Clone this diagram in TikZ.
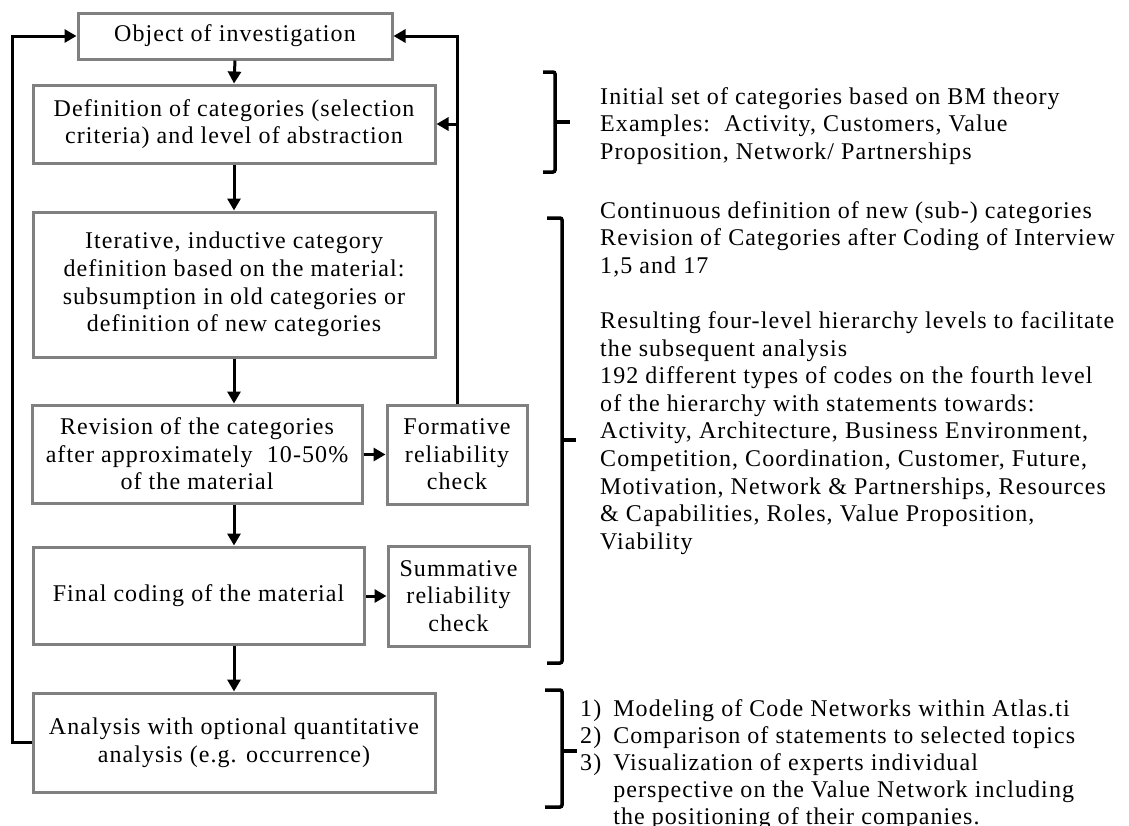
\documentclass[tikz,border=0pt]{standalone}
\usepackage{fontspec}
\setmainfont{Liberation Serif}[LetterSpace=4.5]
\usetikzlibrary{arrows.meta}
\definecolor{boxgray}{HTML}{808080}
\begin{document}
\begin{tikzpicture}[x=1pt,y=-1pt,
  every node/.style={font=\fontsize{24}{27.6}\selectfont},
  stage/.style={draw=boxgray,line width=3pt,fill=white,align=center,inner sep=0pt},
  flow/.style={line width=3pt,-{Triangle[length=12pt,width=13pt]}},
  brace/.style={line width=3.5pt,rounded corners=2pt},
  note/.style={align=left,anchor=north west,inner sep=0pt}]
\useasboundingbox (0,0) rectangle (1129,825);

% process stages
\node[stage,minimum width=314pt,minimum height=46pt] (obj) at (235,36) {Object of investigation};
\node[stage,minimum width=402pt,minimum height=78pt] (def) at (234,124)
  {Definition of categories (selection\\criteria) and level of abstraction};
\node[stage,minimum width=402pt,minimum height=145pt] (iter) at (234,284.5)
  {Iterative, inductive category\\definition based on the material:\\subsumption in old categories or\\definition of new categories};
\node[stage,minimum width=330pt,minimum height=98pt] (rev) at (197,454)
  {Revision of the categories\\after approximately\ \ 10-50\%\\of the material};
\node[stage,minimum width=140pt,minimum height=99pt] (form) at (457,454.5)
  {Formative\\reliability\\check};
\node[stage,minimum width=331pt,minimum height=97pt] (fin) at (198.5,595.5)
  {Final coding of the material};
\node[stage,minimum width=141pt,minimum height=100pt] (sum) at (458.5,596)
  {Summative\\reliability\\check};
\node[stage,minimum width=402pt,minimum height=99pt] (ana) at (234,742.5)
  {Analysis with optional quantitative\\analysis (e.g. occurrence)};

% main flow
\draw[flow] (obj.south) -- (def.north);
\draw[flow] (def.south) -- (iter.north);
\draw[flow] (iter.south) -- (iter.south |- rev.north);
\draw[flow] (rev.south -| iter.south) -- (fin.north -| iter.south);
\draw[flow] (fin.south -| ana.north) -- (ana.north);
\draw[flow] (rev.east |- form.west) -- (form.west);
\draw[flow] (fin.east |- sum.west) -- (sum.west);

% feedback loops
\coordinate (back) at (12,0);
\draw[flow] (ana.west) -- (ana.west -| back) |- (obj.west);
\draw[flow] (form.north) |- (obj.east);
\draw[flow] (form.north |- def.east) -- (def.east);

% braces
\draw[brace] (543,72) -- (555,72) -- (555,172) -- (543,172);
\draw[brace] (555,122) -- (570,122);
\draw[brace] (547,218) -- (562,218) -- (562,663) -- (547,663);
\draw[brace] (562,440) -- (576,440);
\draw[brace] (545,690) -- (562,690) -- (562,807) -- (545,807);
\draw[brace] (562,751) -- (577,751);

% notes
\node[note] (n1) at (600,87)
  {Initial set of categories based on BM theory\\
   Examples:\ \ Activity, Customers, Value\\
   Proposition, Network/ Partnerships};
\node[note] (n2) at (600,201)
  {Continuous definition of new (sub-) categories\\
   Revision of Categories after Coding of Interview\\
   1,5 and 17\\[27.6pt]
   Resulting four-level hierarchy levels to facilitate\\
   the subsequent analysis\\
   192 different types of codes on the fourth level\\
   of the hierarchy with statements towards:\\
   Activity, Architecture, Business Environment,\\
   Competition, Coordination, Customer, Future,\\
   Motivation, Network \& Partnerships, Resources\\
   \& Capabilities, Roles, Value Proposition,\\
   Viability};
\node[note,font=\fontsize{24}{27}\selectfont] (n3) at (580,697)
  {\begin{tabular}{@{}l@{\hspace{12pt}}l@{}}
   1) & Modeling of Code Networks within Atlas.ti\\
   2) & Comparison of statements to selected topics\\
   3) & Visualization of experts individual\\
      & perspective on the Value Network including\\
      & the positioning of their companies.
   \end{tabular}};
\end{tikzpicture}
\end{document}
